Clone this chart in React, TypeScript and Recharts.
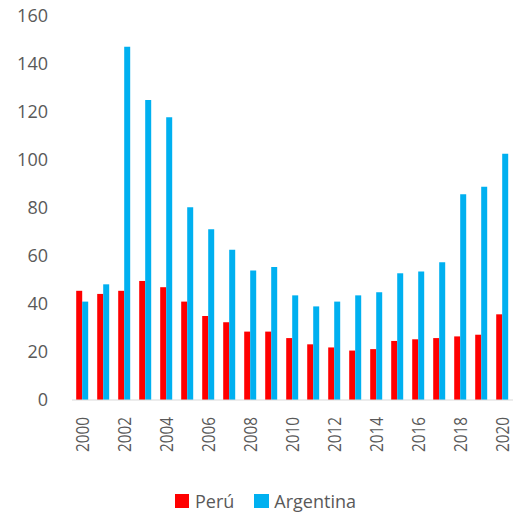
import React from 'react';
import { BarChart, Bar, XAxis, YAxis, Legend } from 'recharts';

const years = [
    '2000', '2001', '2002', '2003', '2004', '2005', '2006', '2007', '2008', '2009', '2010',
    '2011', '2012', '2013', '2014', '2015', '2016', '2017', '2018', '2019', '2020',
];
const peru = [45.5, 44.2, 45.5, 49.6, 47, 41, 35, 32.4, 28.5, 28.5, 25.8, 23.2, 21.9, 20.6, 21.2, 24.6, 25.3, 25.8, 26.5, 27.2, 35.7];
const argentina = [41, 48.2, 147.2, 125, 117.8, 80.3, 71.1, 62.6, 54, 55.4, 43.6, 39, 41, 43.6, 44.9, 52.8, 53.5, 57.4, 85.7, 88.9, 102.6];
const yTicks = [0, 20, 40, 60, 80, 100, 120, 140, 160];

const RED = '#ff0000';
const BLUE = '#00b0f0';
const TEXT = '#595959';
const FONT = '"Open Sans", sans-serif';

const data = years.map((year, i) => ({ year, peru: peru[i], argentina: argentina[i] }));

// rotated year labels, squeezed a bit like the original export
const YearTick = ({ x, y, payload }: any) => (
    <text
        x={x}
        y={y}
        transform={`rotate(-90, ${x}, ${y})`}
        textAnchor="end"
        dy="0.36em"
        fill={TEXT}
        fontSize={18}
        fontFamily={FONT}
        textLength={35}
        lengthAdjust="spacingAndGlyphs"
    >
        {payload.value}
    </text>
);

const renderLegend = () => (
    <div
        style={{
            display: 'flex',
            alignItems: 'center',
            paddingLeft: 175,
            paddingTop: 5,
            height: 31,
            fontFamily: FONT,
            fontSize: 18,
            color: TEXT,
        }}
    >
        <span style={{ width: 14, height: 14, background: RED, display: 'inline-block' }} />
        <span style={{ marginLeft: 6 }}>Perú</span>
        <span style={{ width: 15, height: 14, background: BLUE, display: 'inline-block', marginLeft: 20 }} />
        <span style={{ marginLeft: 5 }}>Argentina</span>
    </div>
);

export default function App() {
    return (
        <div style={{ position: 'absolute', left: 0, top: 0 }}>
            <BarChart
                width={513}
                height={516}
                data={data}
                margin={{ top: 16, right: 0, left: 0, bottom: 0 }}
                barCategoryGap="20%"
                barGap={0}
            >
                <XAxis
                    dataKey="year"
                    interval={1}
                    height={80}
                    tickSize={0}
                    tickMargin={17}
                    tickLine={false}
                    axisLine={{ stroke: '#d9d9d9' }}
                    tick={<YearTick />}
                />
                <YAxis
                    width={72}
                    domain={[0, 160]}
                    ticks={yTicks}
                    tickSize={0}
                    tickMargin={24}
                    tickLine={false}
                    axisLine={false}
                    tick={{ fill: TEXT, fontSize: 18, fontFamily: FONT }}
                />
                <Legend verticalAlign="bottom" height={36} content={renderLegend} />
                <Bar dataKey="peru" name="Perú" fill={RED} isAnimationActive={false} />
                <Bar dataKey="argentina" name="Argentina" fill={BLUE} isAnimationActive={false} />
            </BarChart>
        </div>
    );
}
